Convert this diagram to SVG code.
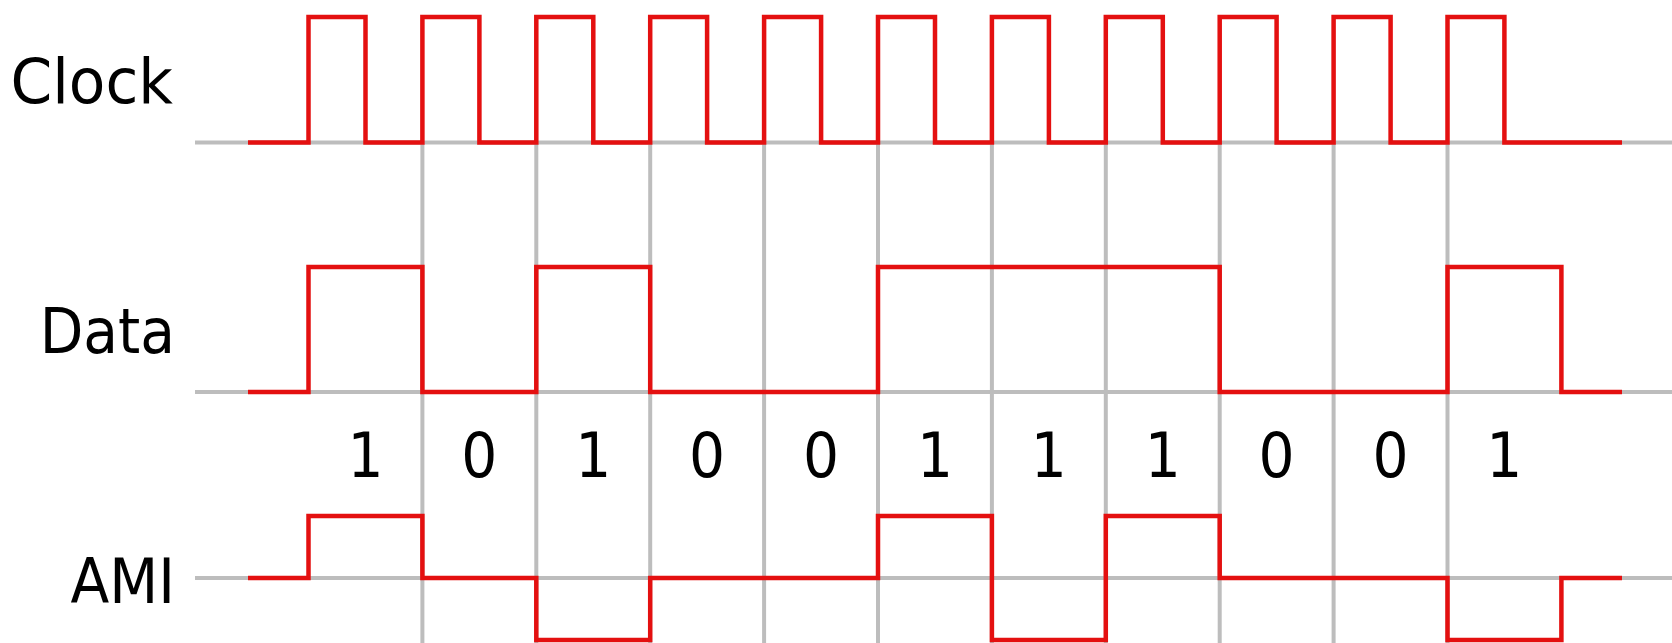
<svg xmlns="http://www.w3.org/2000/svg" width="1672" height="643" viewBox="0 0 1672 643">
<style>
.grid{stroke:#bdbdbd;stroke-width:4;fill:none}
.sig{stroke:#e41010;stroke-width:4.5;fill:none;stroke-linejoin:miter;stroke-linecap:butt}
.lbl{font-family:"DejaVu Sans","Liberation Sans",sans-serif;font-size:63px;fill:#000}
.bit{font-family:"DejaVu Sans","Liberation Sans",sans-serif;font-size:63px;fill:#000;text-anchor:middle}
</style>
<rect width="1672" height="643" fill="#ffffff"/>
<g id="grid">
<path class="grid" d="M195,142.5H1672M195,392H1672M195,578H1672"/>
<path class="grid" d="M422.4,142.5V643M536.3,142.5V643M650.2,142.5V643M764.1,142.5V643M878,142.5V643M991.9,142.5V643M1105.8,142.5V643M1219.7,142.5V643M1333.6,142.5V643M1447.5,142.5V643"/>
</g>
<g id="labels">
<text class="lbl" text-anchor="end" transform="translate(173,103) scale(0.95,1)">Clock</text>
<text class="lbl" text-anchor="end" transform="translate(175,353) scale(0.9,1)">Data</text>
<text class="lbl" text-anchor="end" transform="translate(175,603) scale(0.9,1)">AMI</text>
</g>
<g id="clock">
<path class="sig" d="M248,142.5H308.5V17H365.5V142.5H422.4V17H479.4V142.5H536.3V17H593.3V142.5H650.2V17H707.1V142.5H764.1V17H821.1V142.5H878V17H935V142.5H991.9V17H1048.9V142.5H1105.8V17H1162.8V142.5H1219.7V17H1276.6V142.5H1333.6V17H1390.6V142.5H1447.5V17H1504.4V142.5H1622"/>
</g>
<g id="data">
<path class="sig" d="M248,392H308.5V267H422.4V392H536.3V267H650.2V392H878V267H1219.7V392H1447.5V267H1561.4V392H1622"/>
</g>
<g id="bits">
<text class="bit" transform="translate(365.5,477) scale(0.9,1)">1</text>
<text class="bit" transform="translate(479.4,477) scale(0.9,1)">0</text>
<text class="bit" transform="translate(593.3,477) scale(0.9,1)">1</text>
<text class="bit" transform="translate(707.1,477) scale(0.9,1)">0</text>
<text class="bit" transform="translate(821.1,477) scale(0.9,1)">0</text>
<text class="bit" transform="translate(935,477) scale(0.9,1)">1</text>
<text class="bit" transform="translate(1048.9,477) scale(0.9,1)">1</text>
<text class="bit" transform="translate(1162.8,477) scale(0.9,1)">1</text>
<text class="bit" transform="translate(1276.6,477) scale(0.9,1)">0</text>
<text class="bit" transform="translate(1390.6,477) scale(0.9,1)">0</text>
<text class="bit" transform="translate(1504.4,477) scale(0.9,1)">1</text>
</g>
<g id="ami">
<path class="sig" d="M248,578H308.5V516H422.4V578H536.3V640H650.2V578H878V516H991.9V640H1105.8V516H1219.7V578H1447.5V640H1561.4V578H1622"/>
</g>
</svg>
